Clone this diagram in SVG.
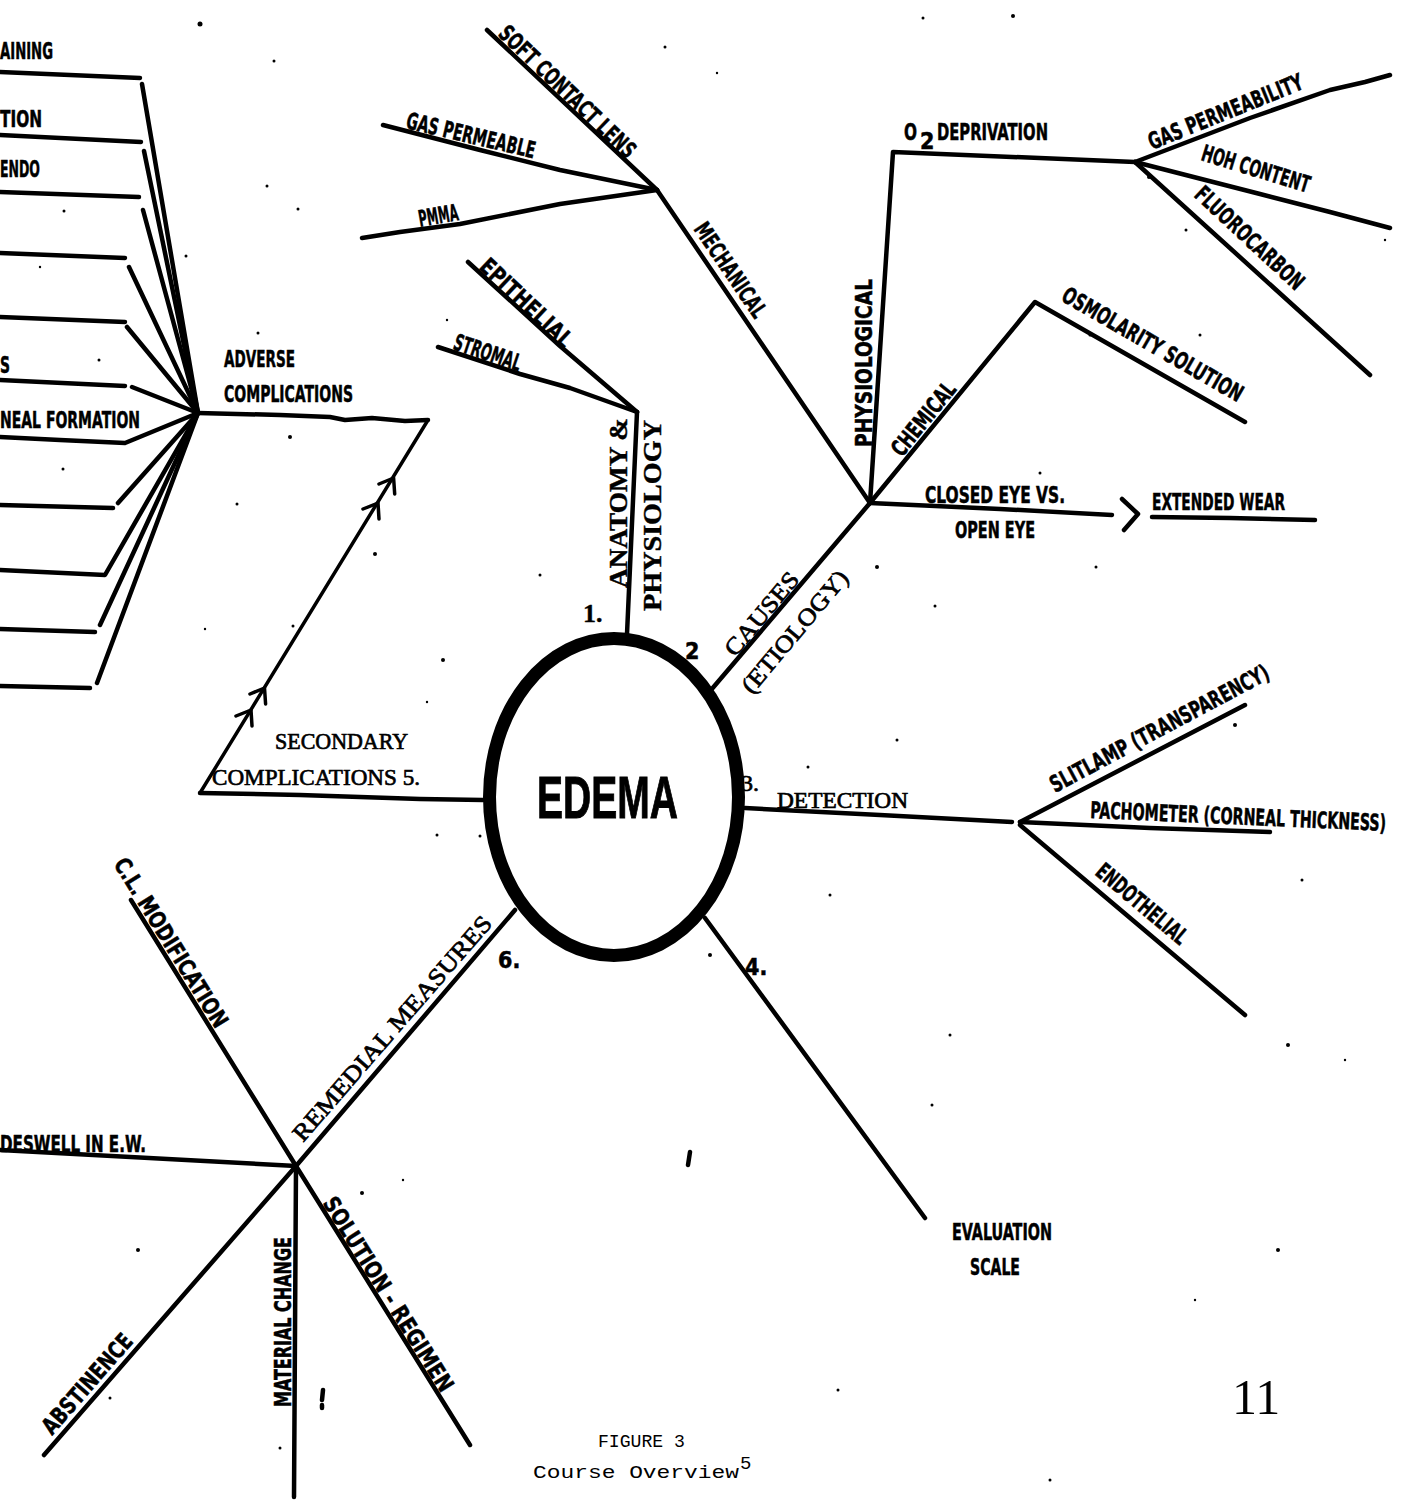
<svg xmlns="http://www.w3.org/2000/svg" width="1403" height="1501" viewBox="0 0 1403 1501">
<style>
.ln{fill:none;stroke:#000;stroke-width:4.5;stroke-linecap:round;stroke-linejoin:round}
.th{stroke-width:3.5}
.hl{font-family:"Liberation Sans Narrow","DejaVu Sans Condensed","Liberation Sans",sans-serif;font-weight:bold;fill:#000;stroke:#000;stroke-width:0.5;font-size:23px}
.tw{font-family:"Liberation Serif",serif;fill:#000;stroke:#000;stroke-width:0.7;font-size:24px}
.twb{font-family:"Liberation Serif",serif;font-weight:bold;fill:#000;stroke:#000;stroke-width:0.4;font-size:26px}
.mono{font-family:"Liberation Mono","DejaVu Sans Mono",monospace;fill:#000;font-size:19px}
.dot{fill:#000}
</style>
<rect width="1403" height="1501" fill="#fff"/>

<g id="connectors">
  <!-- adverse complications fan -->
  <path class="ln" d="M0,72 L140,78 M142,84 L198,413"/>
  <path class="ln" d="M0,135 L141,142 M144,151 L198,413"/>
  <path class="ln" d="M0,192 L139,197 M143,210 L198,413"/>
  <path class="ln" d="M0,253 L125,258 M129,267 L198,413"/>
  <path class="ln" d="M0,317 L125,322 M127,327 L198,413"/>
  <path class="ln" d="M0,380 L125,386 M132,387 L198,413"/>
  <path class="ln" d="M0,437 L60,440 L125,443 L198,413"/>
  <path class="ln" d="M0,505 L113,508 M118,503 L198,413"/>
  <path class="ln" d="M0,570 L105,575 L198,413"/>
  <path class="ln" d="M0,629 L95,632 M100,625 L198,413"/>
  <path class="ln" d="M0,686 L90,688 M97,683 L198,413"/>
  <path class="ln" d="M198,413 L280,415 L330,417 L345,420 L372,418 L405,421 L428,420"/>
  <!-- secondary complications -> adverse -->
  <path class="ln th" d="M428,420 L200,793"/>
  <path class="ln th" d="M379,484 L393.6,478 L394.7,494 M363,509 L378,503 L379,519 M250,694 L264.5,688 L265.6,704 M236,716 L251,710 L252,726"/>
  <path class="ln" d="M200,793 L300,795 L360,797 L420,799 L483,800"/>

  <!-- anatomy & physiology -->
  <path class="ln" d="M627,634 L637,412"/>
  <path class="ln" d="M438,347 L520,374 L570,388 L637,412"/>
  <path class="ln" d="M468,262 L560,346 L637,412"/>

  <!-- causes -->
  <path class="ln" d="M711,690 L870,503"/>
  <path class="ln" d="M870,503 L657,190"/>
  <path class="ln" d="M487,30 L657,190"/>
  <path class="ln" d="M383,125 L480,150 L560,170 L657,190"/>
  <path class="ln" d="M362,238 L400,232 L460,224 L560,204 L657,190"/>
  <path class="ln" d="M870,503 L893,152 L1135,162"/>
  <path class="ln" d="M1135,162 L1250,118 L1330,90 L1365,82 L1390,75"/>
  <path class="ln" d="M1135,162 L1260,194 L1330,212 L1390,228"/>
  <path class="ln" d="M1135,162 L1370,375"/>
  <path class="ln" d="M870,503 L1035,302 L1245,422"/>
  <path class="ln" d="M870,503 L1000,509 L1112,515"/>
  <path class="ln" stroke-width="6" d="M1122,499 L1138,514 L1124,530"/>
  <path class="ln" d="M1152,517 L1230,518 L1315,520"/>

  <!-- detection -->
  <path class="ln" d="M745,808 L880,815 L1012,822"/>
  <path class="ln" d="M1020,822 L1245,705"/>
  <path class="ln" d="M1020,822 L1150,828 L1270,832"/>
  <path class="ln" d="M1020,825 L1245,1015"/>

  <!-- evaluation -->
  <path class="ln" d="M705,918 L925,1218"/>

  <!-- remedial measures -->
  <path class="ln" d="M515,910 L296,1166"/>
  <path class="ln" d="M131,900 L296,1166"/>
  <path class="ln" d="M0,1150 L296,1166"/>
  <path class="ln" d="M296,1166 L44,1455"/>
  <path class="ln" d="M296,1166 L294,1497"/>
  <path class="ln" d="M296,1166 L470,1445"/>
</g>

<g id="node-edema">
  <ellipse cx="614" cy="797" rx="124.5" ry="158.5" fill="none" stroke="#000" stroke-width="13"/>
  <text x="537" y="818" font-family="Liberation Sans, Arial, sans-serif" font-weight="bold" font-size="60" stroke="#000" stroke-width="1" textLength="141" lengthAdjust="spacingAndGlyphs">EDEMA</text>
</g>

<g id="node-anatomy">
  <text class="twb" transform="translate(627,588) rotate(-90)" textLength="170" lengthAdjust="spacingAndGlyphs">ANATOMY &amp;</text>
  <text class="twb" transform="translate(661,611) rotate(-90)" textLength="191" lengthAdjust="spacingAndGlyphs">PHYSIOLOGY</text>
  <text class="twb" x="583" y="622" font-size="20">1.</text>
  <text class="hl" transform="translate(452,349) rotate(18.6)" font-size="20" textLength="70" lengthAdjust="spacingAndGlyphs">STROMAL</text>
  <text class="hl" transform="translate(478,268) rotate(43.3)" font-size="19" textLength="118" lengthAdjust="spacingAndGlyphs">EPITHELIAL</text>
</g>

<g id="node-causes">
  <text class="tw" transform="translate(735,658) rotate(-50)" font-size="27" textLength="102" lengthAdjust="spacingAndGlyphs">CAUSES</text>
  <text class="tw" transform="translate(752,695) rotate(-50)" font-size="26" textLength="152" lengthAdjust="spacingAndGlyphs">(ETIOLOGY)</text>
  <text class="hl" x="685" y="659" font-size="21">2</text>
</g>

<g id="node-mechanical">
  <text class="hl" transform="translate(693,229) rotate(55.8)" font-size="20" textLength="110" lengthAdjust="spacingAndGlyphs">MECHANICAL</text>
  <text class="hl" transform="translate(497,35) rotate(43.8)" font-size="21" textLength="180" lengthAdjust="spacingAndGlyphs">SOFT CONTACT LENS</text>
  <text class="hl" transform="translate(405,128) rotate(13.3)" font-size="21" textLength="132" lengthAdjust="spacingAndGlyphs">GAS PERMEABLE</text>
  <text class="hl" transform="translate(420,227) rotate(-10)" font-size="19" textLength="40" lengthAdjust="spacingAndGlyphs">PMMA</text>
</g>

<g id="node-physiological">
  <text class="hl" transform="translate(872,447) rotate(-90)" font-size="22" textLength="168" lengthAdjust="spacingAndGlyphs">PHYSIOLOGICAL</text>
  <text class="hl" x="904" y="140" font-size="22" textLength="13" lengthAdjust="spacingAndGlyphs">O</text>
  <text class="hl" x="920" y="149" font-size="11">2</text>
  <text class="hl" x="937" y="140" font-size="22" textLength="111" lengthAdjust="spacingAndGlyphs">DEPRIVATION</text>
  <text class="hl" transform="translate(1152,150) rotate(-22)" font-size="21" textLength="165" lengthAdjust="spacingAndGlyphs">GAS PERMEABILITY</text>
  <text class="hl" transform="translate(1200,160) rotate(17)" font-size="21" textLength="112" lengthAdjust="spacingAndGlyphs">HOH CONTENT</text>
  <text class="hl" transform="translate(1193,196) rotate(43)" font-size="20" textLength="140" lengthAdjust="spacingAndGlyphs">FLUOROCARBON</text>
</g>

<g id="node-chemical">
  <text class="hl" transform="translate(902,458) rotate(-51)" font-size="20" textLength="88" lengthAdjust="spacingAndGlyphs">CHEMICAL</text>
  <text class="hl" transform="translate(1060,300) rotate(30)" font-size="21" textLength="205" lengthAdjust="spacingAndGlyphs">OSMOLARITY SOLUTION</text>
</g>

<g id="node-closed-eye">
  <text class="hl" x="925" y="503" font-size="21" textLength="140" lengthAdjust="spacingAndGlyphs">CLOSED EYE VS.</text>
  <text class="hl" x="955" y="538" font-size="21" textLength="80" lengthAdjust="spacingAndGlyphs">OPEN EYE</text>
  <text class="hl" x="1152" y="510" font-size="21" textLength="133" lengthAdjust="spacingAndGlyphs">EXTENDED WEAR</text>
</g>

<g id="node-detection">
  <text class="tw" x="741" y="791" font-size="19">3.</text>
  <text class="tw" x="777" y="808" textLength="131" lengthAdjust="spacingAndGlyphs">DETECTION</text>
  <text class="hl" transform="translate(1055,793) rotate(-28)" font-size="20" textLength="245" lengthAdjust="spacingAndGlyphs">SLITLAMP (TRANSPARENCY)</text>
  <text class="hl" transform="translate(1090,818) rotate(2.5)" font-size="19" textLength="296" lengthAdjust="spacingAndGlyphs">PACHOMETER (CORNEAL THICKNESS)</text>
  <text class="hl" transform="translate(1094,874) rotate(40)" font-size="18" textLength="112" lengthAdjust="spacingAndGlyphs">ENDOTHELIAL</text>
</g>

<g id="node-evaluation">
  <text class="hl" x="745" y="975" font-size="20">4.</text>
  <text class="hl" x="952" y="1240" font-size="21" textLength="100" lengthAdjust="spacingAndGlyphs">EVALUATION</text>
  <text class="hl" x="970" y="1275" font-size="21" textLength="50" lengthAdjust="spacingAndGlyphs">SCALE</text>
</g>

<g id="node-secondary">
  <text class="tw" x="275" y="749" font-size="23" textLength="133" lengthAdjust="spacingAndGlyphs">SECONDARY</text>
  <text class="tw" x="212" y="785" font-size="23" textLength="208" lengthAdjust="spacingAndGlyphs">COMPLICATIONS 5.</text>
</g>

<g id="node-adverse">
  <text class="hl" x="224" y="367" font-size="24" textLength="71" lengthAdjust="spacingAndGlyphs">ADVERSE</text>
  <text class="hl" x="224" y="402" font-size="24" textLength="129" lengthAdjust="spacingAndGlyphs">COMPLICATIONS</text>
  <text class="hl" x="0" y="59" font-size="24" textLength="53" lengthAdjust="spacingAndGlyphs">AINING</text>
  <text class="hl" x="0" y="127" font-size="24" textLength="42" lengthAdjust="spacingAndGlyphs">TION</text>
  <text class="hl" x="0" y="177" font-size="24" textLength="40" lengthAdjust="spacingAndGlyphs">ENDO</text>
  <text class="hl" x="0" y="373" font-size="24" textLength="10" lengthAdjust="spacingAndGlyphs">S</text>
  <text class="hl" x="0" y="428" font-size="24" textLength="140" lengthAdjust="spacingAndGlyphs">NEAL FORMATION</text>
</g>

<g id="node-remedial">
  <text class="hl" x="498" y="968" font-size="20">6.</text>
  <text class="tw" transform="translate(303,1143) rotate(-49)" font-size="24" textLength="290" lengthAdjust="spacingAndGlyphs">REMEDIAL MEASURES</text>
  <text class="hl" transform="translate(113,864) rotate(58.2)" font-size="19" textLength="195" lengthAdjust="spacingAndGlyphs">C.L. MODIFICATION</text>
  <text class="hl" x="0" y="1152" font-size="21" textLength="146" lengthAdjust="spacingAndGlyphs">DESWELL IN E.W.</text>
  <text class="hl" transform="translate(52,1436) rotate(-48.9)" font-size="20" textLength="125" lengthAdjust="spacingAndGlyphs">ABSTINENCE</text>
  <text class="hl" transform="translate(291,1407) rotate(-90)" font-size="20" textLength="170" lengthAdjust="spacingAndGlyphs">MATERIAL CHANGE</text>
  <text class="hl" transform="translate(322,1203) rotate(58)" font-size="19" textLength="225" lengthAdjust="spacingAndGlyphs">SOLUTION - REGIMEN</text>
</g>

<g id="caption">
  <text class="mono" x="598" y="1447" textLength="87" lengthAdjust="spacingAndGlyphs">FIGURE 3</text>
  <text class="mono" x="533" y="1478" font-size="19" textLength="206" lengthAdjust="spacingAndGlyphs">Course Overview</text>
  <text class="mono" x="740" y="1469" font-size="13">5</text>
  <text x="1232" y="1414" font-family="Liberation Serif, serif" font-size="50">11</text>
</g>

<g id="specks">
  <circle class="dot" cx="200" cy="24" r="2.5"/>
  <circle class="dot" cx="274" cy="61" r="1.5"/>
  <circle class="dot" cx="267" cy="186" r="1.5"/>
  <circle class="dot" cx="298" cy="209" r="1.5"/>
  <circle class="dot" cx="64" cy="211" r="1.5"/>
  <circle class="dot" cx="186" cy="256" r="1.5"/>
  <circle class="dot" cx="40" cy="267" r="1.2"/>
  <circle class="dot" cx="258" cy="333" r="1.5"/>
  <circle class="dot" cx="99" cy="360" r="1.5"/>
  <circle class="dot" cx="290" cy="437" r="2"/>
  <circle class="dot" cx="63" cy="469" r="1.5"/>
  <circle class="dot" cx="237" cy="504" r="1.5"/>
  <circle class="dot" cx="375" cy="554" r="2"/>
  <circle class="dot" cx="293" cy="626" r="1.5"/>
  <circle class="dot" cx="205" cy="629" r="1.2"/>
  <circle class="dot" cx="427" cy="702" r="1.2"/>
  <circle class="dot" cx="665" cy="47" r="1.5"/>
  <circle class="dot" cx="717" cy="73" r="1.2"/>
  <circle class="dot" cx="447" cy="320" r="1.2"/>
  <circle class="dot" cx="863" cy="340" r="1.5"/>
  <circle class="dot" cx="923" cy="18" r="1.5"/>
  <circle class="dot" cx="1013" cy="16" r="2"/>
  <circle class="dot" cx="1149" cy="177" r="2"/>
  <circle class="dot" cx="1186" cy="230" r="1.5"/>
  <circle class="dot" cx="1385" cy="240" r="1.2"/>
  <circle class="dot" cx="1090" cy="335" r="1.5"/>
  <circle class="dot" cx="1200" cy="335" r="1.5"/>
  <circle class="dot" cx="1040" cy="473" r="1.5"/>
  <circle class="dot" cx="877" cy="567" r="2"/>
  <circle class="dot" cx="1096" cy="567" r="1.5"/>
  <circle class="dot" cx="935" cy="606" r="1.5"/>
  <circle class="dot" cx="808" cy="767" r="1.5"/>
  <circle class="dot" cx="897" cy="740" r="1.5"/>
  <circle class="dot" cx="1145" cy="757" r="1.5"/>
  <circle class="dot" cx="1235" cy="725" r="2"/>
  <circle class="dot" cx="540" cy="575" r="1.5"/>
  <circle class="dot" cx="437" cy="835" r="1.5"/>
  <circle class="dot" cx="443" cy="660" r="2"/>
  <circle class="dot" cx="710" cy="955" r="2"/>
  <circle class="dot" cx="830" cy="895" r="1.5"/>
  <circle class="dot" cx="950" cy="1035" r="1.5"/>
  <circle class="dot" cx="1288" cy="1045" r="2"/>
  <circle class="dot" cx="1302" cy="880" r="1.5"/>
  <circle class="dot" cx="1345" cy="1060" r="1.2"/>
  <circle class="dot" cx="932" cy="1105" r="1.5"/>
  <circle class="dot" cx="1278" cy="1250" r="2"/>
  <circle class="dot" cx="1195" cy="1300" r="1.2"/>
  <circle class="dot" cx="838" cy="1390" r="1.5"/>
  <circle class="dot" cx="1050" cy="1480" r="1.5"/>
  <circle class="dot" cx="138" cy="1250" r="2"/>
  <circle class="dot" cx="362" cy="1193" r="2"/>
  <circle class="dot" cx="480" cy="836" r="1.5"/>
  <circle class="dot" cx="403" cy="1180" r="1.2"/>
  <circle class="dot" cx="110" cy="1398" r="1.5"/>
  <circle class="dot" cx="280" cy="1448" r="1.5"/>
  <path class="ln" stroke-width="2.5" d="M690,1152 L688,1165 M323,1390 L322,1400 M322,1405 L322,1408"/>
</g>
</svg>
